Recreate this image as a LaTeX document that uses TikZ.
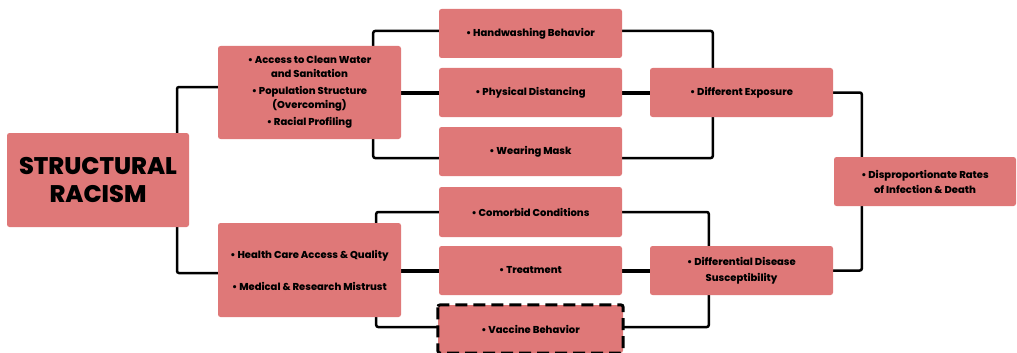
\documentclass[tikz,border=0pt]{standalone}
\usepackage{fontspec}
\setmainfont{Poppins}[BoldFont={Poppins ExtraBold}]
\usetikzlibrary{backgrounds}
\definecolor{boxred}{HTML}{DF7878}
\tikzset{
  box/.style={fill=boxred, rounded corners=2.5pt, minimum width=183pt, minimum height=49pt,
    inner sep=2pt, align=center, font=\bfseries\fontsize{10}{15}\selectfont, text=black},
  conn/.style={draw=black, line width=2.5pt, rounded corners=2pt},
  thickconn/.style={draw=black, line width=4pt},
  dashbox/.style={draw=black, line width=3pt, dash pattern=on 12pt off 6pt, rounded corners=2.5pt}
}
\begin{document}
\begin{tikzpicture}[x=1pt,y=-1pt]
\useasboundingbox (0,0) rectangle (1017,353);
\node[box, minimum width=182pt, minimum height=94pt, font=\bfseries\fontsize{24}{28}\selectfont] (SR) at (98,180) {STRUCTURAL\\RACISM};
\node[box, minimum height=93pt, font=\bfseries\fontsize{10}{13.5}\selectfont] (A) at (309.5,92.5) {• Access to Clean Water\\and Sanitation\\[4pt]• Population Structure\\(Overcoming)\\[4pt]• Racial Profiling};
\node[box, minimum height=94pt, font=\bfseries\fontsize{10}{16}\selectfont] (B) at (309.5,270) {• Health Care Access \& Quality\\[16pt]• Medical \& Research Mistrust};
\node[box] (HW) at (530.5,33.5) {• Handwashing Behavior};
\node[box] (PD) at (530.5,92.5) {• Physical Distancing};
\node[box] (WM) at (530.5,151.5) {• Wearing Mask};
\node[box, minimum height=50pt] (CC) at (530.5,212) {• Comorbid Conditions};
\node[box] (TR) at (530.5,270.5) {• Treatment};
\node[box, minimum width=185pt, minimum height=48pt] (VB) at (530.5,329) {• Vaccine Behavior};
\node[box] (DE) at (741.5,92.5) {• Different Exposure};
\node[box, font=\bfseries\fontsize{10}{16}\selectfont] (DDS) at (741.5,270.5) {• Differential Disease\\Susceptibility};
\node[box, minimum width=182pt] (DR) at (925,181.5) {• Disproportionate Rates\\of Infection \& Death};
\draw[dashbox] (VB.north west) rectangle (VB.south east);
\begin{scope}[on background layer]
\draw[conn] ([yshift=5.5pt]A.west) -| ([xshift=79pt]SR.center) |- ([yshift=-3pt]B.west);
\draw[thickconn] (A.east) -- (PD.west);
\draw[conn] ([yshift=2.5pt]HW.west) -| ([xshift=-28pt]A.east) |- ([yshift=-6.5pt]WM.west);
\draw[conn] ([yshift=2.5pt]HW.east) -| ([xshift=63pt]DE.west) |- ([yshift=-6.5pt]WM.east);
\draw[thickconn] (PD.east) -- (DE.west);
\draw[conn] (CC.west) -| ([xshift=-25pt]B.east) |- ([yshift=2pt]VB.west);
\draw[thickconn] (TR.west -| B.east) -- (TR.west);
\draw[conn] (CC.east) -| ([xshift=59pt]DDS.west) |- ([yshift=2pt]VB.east);
\draw[thickconn] (TR.east) -- (DDS.west);
\draw[conn] (DE.east) -| ([xshift=28pt]DR.west) |- (DDS.east);
\end{scope}
\end{tikzpicture}
\end{document}
